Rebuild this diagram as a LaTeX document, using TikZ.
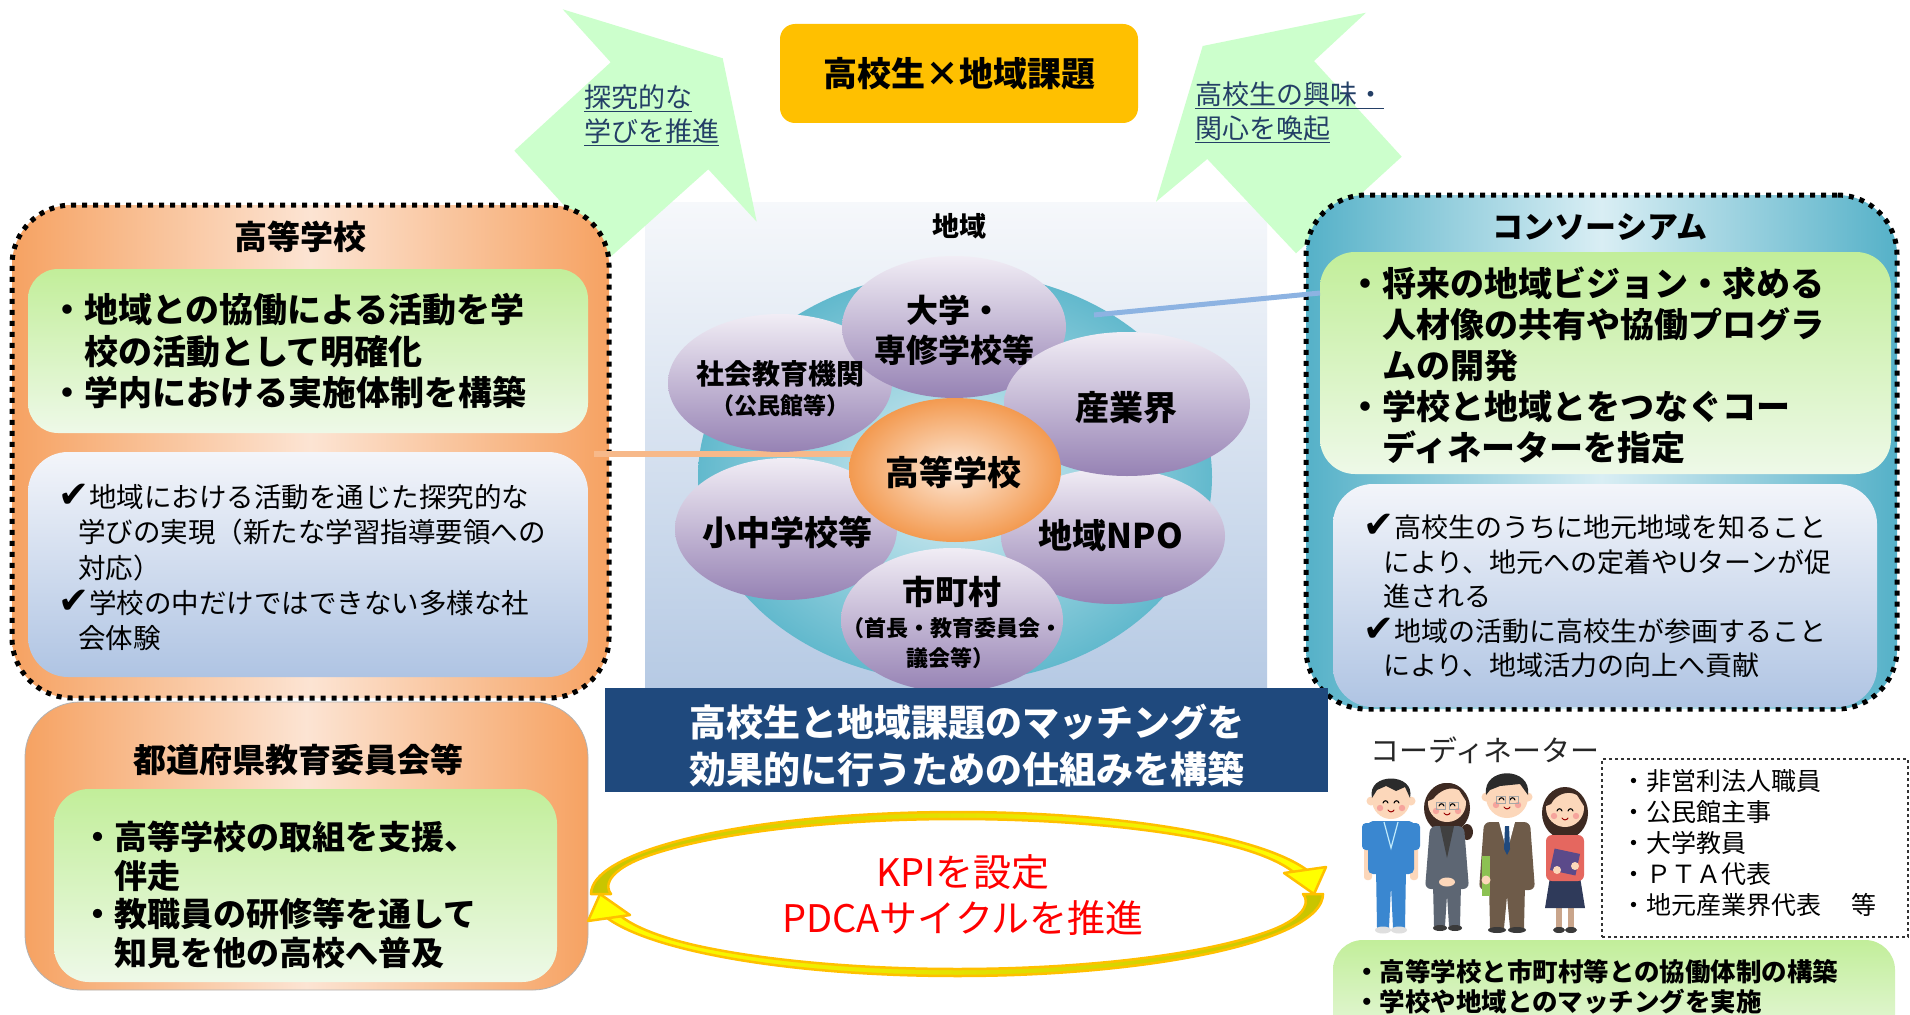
\documentclass[tikz,border=0pt]{standalone}
\usepackage{fontspec}
\setmainfont{Noto Sans CJK JP}
\newfontfamily\dv{DejaVu Sans}
\usetikzlibrary{shapes.geometric,arrows.meta,calc}

\definecolor{gold}{HTML}{FFC000}
\definecolor{mint}{HTML}{CCFFCC}
\definecolor{linkblue}{HTML}{243F66}
\definecolor{orEdge}{HTML}{F6A262}
\definecolor{orMid}{HTML}{FCE4D3}
\definecolor{tealEdge}{HTML}{55B1C8}
\definecolor{tealMid}{HTML}{D9EEF4}
\definecolor{grTop}{HTML}{C2EE9A}
\definecolor{grBot}{HTML}{EEF9E8}
\definecolor{blTop}{HTML}{F3F5FA}
\definecolor{blBot}{HTML}{AFC4E3}
\definecolor{panelTop}{HTML}{F6F8FB}
\definecolor{panelBot}{HTML}{B6CAE4}
\definecolor{navy}{HTML}{1F497D}
\definecolor{purTop}{HTML}{F1EDF5}
\definecolor{purBot}{HTML}{9682B4}
\definecolor{hsIn}{HTML}{FDE9D9}
\definecolor{hsOut}{HTML}{F39A50}
\definecolor{ringIn}{HTML}{DCF0F5}
\definecolor{ringOut}{HTML}{62B9CD}
\definecolor{lineOr}{HTML}{F7B98A}
\definecolor{lineBl}{HTML}{8DB3E2}
\definecolor{kpiRed}{HTML}{FF0000}
\definecolor{tipYel}{HTML}{FFFF00}
\definecolor{bandOlive}{HTML}{C8C400}
\definecolor{skin}{HTML}{FCD7BA}
\definecolor{cheek}{HTML}{F6A49C}
\definecolor{hairBlk}{HTML}{2B2B2B}
\definecolor{hairBrn}{HTML}{3E2A22}
\definecolor{scrub}{HTML}{3A87D0}
\definecolor{suitGray}{HTML}{5D6673}
\definecolor{suitBrown}{HTML}{6E5B49}
\definecolor{shirtRed}{HTML}{E5675F}
\definecolor{skirtNavy}{HTML}{2F3A5A}
\definecolor{bookPurple}{HTML}{5B4A8A}
\definecolor{bookGreen}{HTML}{8CC152}
\definecolor{shoeDark}{HTML}{3A3A3A}
\definecolor{legTan}{HTML}{C9A58B}

\newcommand{\fsz}[2]{\fontsize{#1pt}{#2pt}\selectfont}
\newcommand{\chk}{{\dv\fontsize{37pt}{37pt}\selectfont ✔}}

% a smiling cartoon face drawn around the origin of the current scope
\newcommand{\happyface}{%
  \draw[line width=1.1pt, line cap=round] (-8,3) .. controls (-7,0) and (-4,0) .. (-3,3);
  \draw[line width=1.1pt, line cap=round] (3,3) .. controls (4,0) and (7,0) .. (8,3);
  \fill[cheek] (-11,8) circle (3.2);
  \fill[cheek] (11,8) circle (3.2);
  \draw[line width=1pt, red!60!black, line cap=round] (-3,10) .. controls (-1.5,12.5) and (1.5,12.5) .. (3,10);
}
\newcommand{\specs}{%
  \draw[line width=0.8pt, gray!70] (-11,-1) rectangle (-2,6);
  \draw[line width=0.8pt, gray!70] (2,-1) rectangle (11,6);
}

\tikzset{
  txt/.style={inner sep=0pt, outer sep=0pt, anchor=west, align=left},
  ctxt/.style={inner sep=0pt, outer sep=0pt, align=center},
  dotframe/.style={draw=black, line width=5pt, dash pattern=on 5pt off 6pt},
  orbox/.style={rectangle, inner sep=0pt, left color=orEdge, right color=orEdge, middle color=orMid},
  tealbox/.style={rectangle, inner sep=0pt, left color=tealEdge, right color=tealEdge, middle color=tealMid},
  greenbox/.style={rectangle, inner sep=0pt, top color=grTop, bottom color=grBot},
  bluebox/.style={rectangle, inner sep=0pt, top color=blTop, bottom color=blBot},
  purple/.style={ellipse, inner sep=0pt, top color=purTop, bottom color=purBot},
  cycleband/.style={draw=gold, line width=2.5pt, line join=round},
  cyclehead/.style={fill=tipYel, draw=gold, line width=2.5pt, line join=round},
  declare function={
    wu(\t)=7+13*max(0,1-(\t-180)/30)^2+6*max(0,1-(345-\t)/30)^2;
    wl(\t)=7+13*max(0,1-\t/30)^2+6*max(0,1-(165-\t)/30)^2;
  },
}

\begin{document}
\begin{tikzpicture}[x=1pt,y=-1pt]
\useasboundingbox (0,0) rectangle (1910,1014);
\clip (0,0) rectangle (1910,1014);
\fill[white] (0,0) rectangle (1910,1014);

% ---------- central region panel ----------
\node[rectangle, inner sep=0pt, minimum width=622pt, minimum height=486pt,
      top color=panelTop, bottom color=panelBot] (panel) at (956,445) {};
\node[font={\fsz{27}{32}\bfseries}] (t-area) at (959,226) {地域};

% ---------- two green arrows ----------
\fill[mint] (562.7,9.3) -- (722.7,58.3) -- (756.7,221.7) -- (708.3,169.3)
  -- (610.7,256.7) -- (514.3,150.7) -- (610.7,62.3) -- cycle;
\fill[mint] (1366,12.7) -- (1314,61) -- (1401.7,156.7) -- (1296,253.3)
  -- (1207.3,159) -- (1156,201.7) -- (1202.7,46) -- cycle;
\node[txt, text=linkblue, font={\fsz{27}{34}}] (t-arrL) at (584,115)
  {\underline{探究的な}\\\underline{学びを推進}};
\node[txt, text=linkblue, font={\fsz{27}{34}}] (t-arrR) at (1195,112.5)
  {\underline{高校生の興味・}\\\underline{関心を喚起}};

% ---------- top title ----------
\node[rectangle, rounded corners=15pt, fill=gold, minimum width=358pt, minimum height=99pt] (top) at (959,73.5) {};
\node[font={\fsz{34}{40}\bfseries}] (t-top) at (top.center) {高校生×地域課題};

% ---------- high school box (left) ----------
\node[orbox, dotframe, rounded corners=60pt, minimum width=597pt, minimum height=493pt] (hsbox) at (310.5,451.5) {};
\node[font={\fsz{33}{40}\bfseries}] (t-hs) at (300,237) {高等学校};
\node[greenbox, rounded corners=30pt, minimum width=560pt, minimum height=164pt] (g1) at (308,351) {};
\node[txt, font={\fsz{34}{41.5}\bfseries}] (t-g1) at (50,351.5)
  {・地域との協働による活動を学\\\hspace*{1em}校の活動として明確化\\・学内における実施体制を構築};
\node[bluebox, rounded corners=40pt, minimum width=560pt, minimum height=225pt] (b1) at (308,564.5) {};
\node[txt, font={\fsz{27.5}{35.3}}] (t-b1) at (58,567.5)
  {\chk 地域における活動を通じた探究的な\\\hspace*{20pt}学びの実現（新たな学習指導要領への\\\hspace*{20pt}対応）\\\chk 学校の中だけではできない多様な社\\\hspace*{20pt}会体験};

% ---------- consortium box (right) ----------
\node[tealbox, dotframe, rounded corners=60pt, minimum width=591pt, minimum height=514pt] (cons) at (1601.5,452) {};
\node[font={\fsz{31}{38}\bfseries}] (t-cons) at (1600,227) {コンソーシアム};
\node[greenbox, rounded corners=35pt, minimum width=571pt, minimum height=222pt] (g2) at (1605.5,363) {};
\node[txt, font={\fsz{34}{41}\bfseries}] (t-g2) at (1348,365)
  {・将来の地域ビジョン・求める\\\hspace*{1em}人材像の共有や協働プログラ\\\hspace*{1em}ムの開発\\・学校と地域とをつなぐコー\\\hspace*{1em}ディネーターを指定};
\node[bluebox, rounded corners=40pt, minimum width=544pt, minimum height=223pt] (b2) at (1605,595.5) {};
\node[txt, font={\fsz{27}{34.5}}] (t-b2) at (1363,596)
  {\chk 高校生のうちに地元地域を知ること\\\hspace*{20pt}により、地元への定着やUターンが促\\\hspace*{20pt}進される\\\chk 地域の活動に高校生が参画すること\\\hspace*{20pt}により、地域活力の向上へ貢献};

% ---------- ring of partners ----------
\node[ellipse, inner sep=0pt, minimum width=514pt, minimum height=410pt, inner color=ringIn, outer color=ringOut] (ring) at (955,477) {};
\coordinate (oL) at (594,454);
\coordinate (bL) at (1094,315);
\coordinate (bR) at (1320,293);
\draw[lineOr, line width=6pt] (oL) -- (oL -| ring.center);
\draw[lineBl, line width=5pt] (bL) -- (bR);

\node[purple, minimum width=224pt, minimum height=138pt] (shakai) at (780,383) {};
\node[purple, minimum width=224pt, minimum height=142pt] (daigaku) at (954,327) {};
\node[purple, minimum width=222pt, minimum height=142pt] (shochu) at (786,529) {};
\node[purple, minimum width=224pt, minimum height=136pt] (npo) at (1113,536) {};
\node[purple, minimum width=246pt, minimum height=144pt] (sangyo) at (1127,404) {};
\node[purple, minimum width=222pt, minimum height=144pt] (shicho) at (952,620) {};
\node[ellipse, inner sep=0pt, minimum width=212pt, minimum height=144pt, inner color=hsIn, outer color=hsOut] (hs) at (955,470) {};

\node[ctxt, font={\fsz{32}{40}\bfseries}] (t-daigaku) at (954,330) {大学・\\専修学校等};
\node[ctxt, font={\fsz{28}{32}\bfseries}] (t-shakai1) at (780,374) {社会教育機関};
\node[ctxt, font={\fsz{23}{28}\bfseries}] (t-shakai2) at (780,406) {（公民館等）};
\node[ctxt, font={\fsz{34}{40}\bfseries}] (t-sangyo) at (1126,408) {産業界};
\node[ctxt, font={\fsz{34}{40}\bfseries}] (t-hsc) at (953,472) {高等学校};
\node[ctxt, font={\fsz{34}{40}\bfseries}] (t-shochu) at (787,532) {小中学校等};
\node[ctxt, font={\fsz{34}{40}\bfseries}] (t-npo) at (1111,536) {地域NPO};
\node[ctxt, font={\fsz{33}{40}\bfseries}] (t-shicho1) at (952,592) {市町村};
\node[ctxt, font={\fsz{22}{28}\bfseries}] (t-shicho2) at (952,628) {（首長・教育委員会・};
\node[ctxt, font={\fsz{22}{28}\bfseries}] (t-shicho3) at (950,658) {議会等）};

% ---------- banner ----------
\node[rectangle, inner sep=0pt, fill=navy, minimum width=723pt, minimum height=104pt] (banner) at (966.5,740) {};
\node[ctxt, text=white, font={\fsz{37}{47}\bfseries}] (t-banner) at (966.5,745.5)
  {高校生と地域課題のマッチングを\\効果的に行うための仕組みを構築};

% ---------- prefectural board box ----------
\node[orbox, draw=gray!60, line width=0.8pt, rounded corners=55pt, minimum width=563pt, minimum height=288pt] (pref) at (306.5,846) {};
\node[font={\fsz{33}{40}\bfseries}] (t-pref) at (298,760) {都道府県教育委員会等};
\node[greenbox, rounded corners=35pt, minimum width=503pt, minimum height=193pt] (g3) at (305.5,885.5) {};
\node[txt, font={\fsz{33}{38.7}\bfseries}] (t-g3) at (81,895)
  {・高等学校の取組を支援、\\\hspace*{1em}伴走\\・教職員の研修等を通して\\\hspace*{1em}知見を他の高校へ普及};

% ---------- PDCA cycle: two curved block arrows ----------
% upper arrow, left to right
\shadedraw[cycleband, left color=bandOlive, middle color=gold, right color=tipYel]
  plot[domain=180:345, samples=60, smooth] ({957+366*cos(\x)},{894+82*sin(\x)})
  -- plot[domain=345:180, samples=60, smooth] ({957+(366-wu(\x))*cos(\x)},{894+(82-wu(\x))*sin(\x)})
  -- cycle;
\filldraw[cyclehead] (1284,873) -- (1326,867) -- (1314,894) -- cycle;
% lower arrow, right to left
\shadedraw[cycleband, left color=tipYel, middle color=gold, right color=bandOlive]
  plot[domain=0:165, samples=60, smooth] ({957+366*cos(\x)},{894+82*sin(\x)})
  -- plot[domain=165:0, samples=60, smooth] ({957+(366-wl(\x))*cos(\x)},{894+(82-wl(\x))*sin(\x)})
  -- cycle;
\filldraw[cyclehead] (630,915) -- (588,921) -- (600,894) -- cycle;
\node[ctxt, text=kpiRed, font={\fsz{38}{46}}] (t-kpi) at (963,895) {KPIを設定\\PDCAサイクルを推進};

% ---------- coordinators ----------
\node[txt, text=black!85, font={\fsz{29}{34}}] (t-coord) at (1370,750) {コーディネーター};

% person 1: blue scrubs
\fill[scrub] (1376,868) -- (1406,868) -- (1405,928) -- (1393,928) -- (1391,886) -- (1389,928) -- (1377,928) -- cycle;
\fill[gray!25] (1383,930) ellipse [x radius=8, y radius=3.5];
\fill[gray!25] (1399,930) ellipse [x radius=8, y radius=3.5];
\fill[skin, rounded corners=3pt] (1364,842) rectangle (1372,880);
\fill[skin, rounded corners=3pt] (1410,842) rectangle (1418,880);
\fill[scrub, rounded corners=5pt] (1368,821) rectangle (1414,874);
\fill[scrub, rounded corners=4pt] (1362,823) rectangle (1377,850);
\fill[scrub, rounded corners=4pt] (1405,823) rectangle (1420,850);
\draw[cyan!25, line width=1.2pt] (1384,822) -- (1391,848) -- (1398,822);
\fill[skin] (1371,801) circle (4.5);
\fill[skin] (1411,801) circle (4.5);
\fill[skin] (1391,800) circle (19);
\fill[hairBlk] (1372,798) .. controls (1366,772) and (1416,772) .. (1410,798) -- (1405,787) -- (1396,791) -- (1386,786) -- (1377,790) -- cycle;
\begin{scope}[shift={(1391,800)}] \happyface \end{scope}

% person 2: grey suit
\fill[hairBrn] (1447,808) ellipse [x radius=23, y radius=25];
\fill[hairBrn] (1467,832) ellipse [x radius=6, y radius=8];
\fill[suitGray] (1433,884) -- (1461,884) -- (1460,926) -- (1449,926) -- (1447,895) -- (1445,926) -- (1434,926) -- cycle;
\fill[shoeDark] (1440,928) ellipse [x radius=7, y radius=3];
\fill[shoeDark] (1455,928) ellipse [x radius=7, y radius=3];
\fill[suitGray, rounded corners=6pt] (1430,826) -- (1464,826) -- (1469,889) -- (1425,889) -- cycle;
\fill[black!75] (1440,826) -- (1454,826) -- (1447,858) -- cycle;
\fill[skin] (1447,882) ellipse [x radius=8, y radius=4.5];
\fill[skin] (1447,803) circle (19);
\fill[hairBrn] (1428,801) .. controls (1428,777) and (1466,777) .. (1466,801) -- (1459,790) .. controls (1450,786) and (1440,790) .. (1433,799) -- cycle;
\begin{scope}[shift={(1447,803)}] \happyface \specs \end{scope}

% person 3: brown suit with a book
\fill[suitBrown] (1489,884) -- (1525,884) -- (1524,928) -- (1510,928) -- (1507,896) -- (1504,928) -- (1490,928) -- cycle;
\fill[shoeDark] (1497,930) ellipse [x radius=9, y radius=3];
\fill[shoeDark] (1517,930) ellipse [x radius=9, y radius=3];
\fill[suitBrown, rounded corners=6pt] (1484,822) -- (1530,822) -- (1535,890) -- (1479,890) -- cycle;
\fill[white] (1499,822) -- (1515,822) -- (1507,852) -- cycle;
\fill[navy] (1505,826) -- (1509,826) -- (1510,849) -- (1507,855) -- (1504,849) -- cycle;
\fill[bookGreen] (1482,856) rectangle (1490,896);
\fill[skin] (1486,880) circle (4.5);
\fill[skin] (1486,797) circle (4.5);
\fill[skin] (1528,797) circle (4.5);
\fill[skin] (1507,797) circle (21);
\fill[hairBlk] (1486,795) .. controls (1482,766) and (1532,766) .. (1528,795) -- (1520,784) -- (1500,786) -- (1490,790) -- cycle;
\begin{scope}[shift={(1507,797)}] \happyface \specs \end{scope}

% person 4: red shirt holding a book
\fill[hairBrn] (1565,813) ellipse [x radius=23, y radius=26];
\fill[legTan] (1556,905) rectangle (1562,928);
\fill[legTan] (1568,905) rectangle (1574,928);
\fill[shoeDark] (1559,930) ellipse [x radius=6, y radius=3];
\fill[shoeDark] (1571,930) ellipse [x radius=6, y radius=3];
\fill[skirtNavy] (1550,877) -- (1580,877) -- (1585,908) -- (1545,908) -- cycle;
\fill[shirtRed, rounded corners=6pt] (1546,835) rectangle (1584,881);
\fill[bookPurple, rotate around={-12:(1565,862)}] (1552,851) rectangle (1578,873);
\fill[skin] (1557,870) circle (4);
\fill[skin] (1575,866) circle (4);
\fill[skin] (1565,808) circle (19);
\fill[hairBrn] (1546,806) .. controls (1546,782) and (1584,782) .. (1584,806) -- (1577,795) .. controls (1568,790) and (1556,794) .. (1551,804) -- cycle;
\begin{scope}[shift={(1565,808)}] \happyface \end{scope}

% list of who can coordinate
\node[rectangle, draw=black!80, line width=1.5pt, dashed, minimum width=306pt, minimum height=178pt] (list) at (1755,848) {};
\node[txt, font={\fsz{25}{30.8}}] (t-list) at (1621,843)
  {・非営利法人職員\\・公民館主事\\・大学教員\\・ＰＴＡ代表\\・地元産業界代表\hspace{30pt}等};

% bottom right tasks
\node[greenbox, rounded corners=30pt, minimum width=562pt, minimum height=120pt] (g4) at (1614,1000) {};
\node[txt, font={\fsz{25.5}{30}\bfseries}] (t-g4) at (1354,987)
  {・高等学校と市町村等との協働体制の構築\\・学校や地域とのマッチングを実施};

\end{tikzpicture}
\end{document}
